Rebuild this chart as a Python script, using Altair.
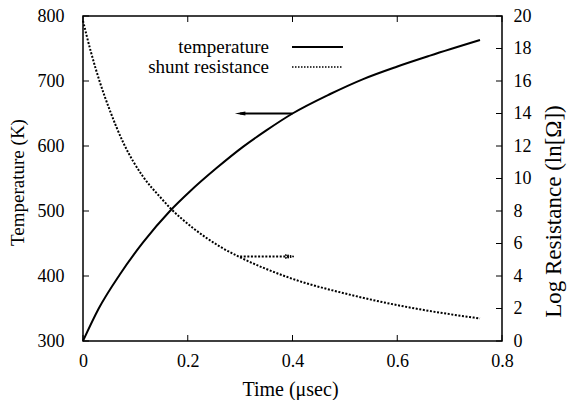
import altair as alt
import pandas as pd

# ---- data ----
temp_time = [0, 0.03, 0.07, 0.115, 0.166, 0.204, 0.255, 0.306, 0.35, 0.40, 0.472, 0.535, 0.599, 0.6625, 0.758]
temp_vals = [300, 350, 402, 452, 500, 530, 566, 599, 624, 650, 680, 703, 722, 739, 763]

res_time = [0, 0.015, 0.0325, 0.05, 0.077, 0.115, 0.147, 0.166, 0.211, 0.262, 0.30, 0.389, 0.516, 0.643, 0.758]
res_vals = [19.7, 17.8, 15.9, 14.3, 12.2, 10.1, 8.87, 8.2, 6.93, 5.8, 5.15, 3.95, 2.8, 1.95, 1.39]

x_ticks = [0, 0.2, 0.4, 0.6, 0.8]
temp_ticks = [300, 400, 500, 600, 700, 800]
res_ticks = [0, 2, 4, 6, 8, 10, 12, 14, 16, 18, 20]

temp_arrow_t = [0.40, 0.30]
temp_arrow_v = 650
res_arrow_t = [0.30, 0.395]
res_arrow_v = 5.2

legend_labels = ["temperature", "shunt resistance"]

W, H = 419, 325
FONT = "Liberation Serif"
FS = 18

temp_df = pd.DataFrame({"t": temp_time, "v": temp_vals})
res_df = pd.DataFrame({"t": res_time, "v": res_vals})

xscale = alt.Scale(domain=[0, 0.8], nice=False, zero=False)
tscale = alt.Scale(domain=[300, 800], nice=False, zero=False)
rscale = alt.Scale(domain=[0, 20], nice=False, zero=False)

common = dict(ticks=False, domain=False, grid=False, labelFlush=False, labelFont=FONT, labelFontSize=FS,
              labelColor="black", titleFont=FONT, titleFontWeight="normal", titleColor="black")

x_axis = alt.Axis(values=x_ticks, format=".1~f", title="Time (\u03bcsec)", labelPadding=11,
                  titleFontSize=20, titleX=207, titleY=48, titleBaseline="middle", titleAlign="center",
                  **common)
t_axis = alt.Axis(values=temp_ticks, orient="left", title="Temperature (K)", labelPadding=19,
                  titleFontSize=19, titleAngle=270, titleX=-66, titleY=166, titleAlign="center",
                  titleBaseline="middle", **common)
r_axis = alt.Axis(values=res_ticks, orient="right", title="Log Resistance (ln[\u03a9])", labelPadding=11,
                  titleFontSize=23, titleAngle=270, titleX=51, titleY=195, titleAlign="center",
                  titleBaseline="middle", **common)

X = alt.X("t:Q", scale=xscale, axis=x_axis)
YT = alt.Y("v:Q", scale=tscale, axis=t_axis)
YR = alt.Y("v:Q", scale=rscale, axis=r_axis)

# temperature group
temp_line = alt.Chart(temp_df).mark_line(color="black", strokeWidth=2, interpolate="monotone").encode(
    x=X, y=YT)
ta_df = pd.DataFrame({"t": [temp_arrow_t[0]], "t2": [temp_arrow_t[1]], "v": [temp_arrow_v]})
temp_arrow = alt.Chart(ta_df).mark_rule(color="black", strokeWidth=2).encode(x=X, x2="t2:Q", y=YT)
tah_df = pd.DataFrame({"t": [temp_arrow_t[1]], "v": [temp_arrow_v]})
temp_head = alt.Chart(tah_df).mark_point(
    shape="M -1 0 L 1 -0.4 L 1 0.4 Z", filled=True, color="black", opacity=1, size=110
).encode(x=X, y=YT)
tt_df = pd.DataFrame({"v": temp_ticks})
temp_tick_marks = alt.Chart(tt_df).mark_rule(color="black", strokeWidth=1).encode(
    x=alt.value(0), x2=alt.value(6), y=YT)

temp_group = alt.layer(temp_line, temp_arrow, temp_head, temp_tick_marks)

# resistance group
res_line = alt.Chart(res_df).mark_line(color="black", strokeWidth=2, strokeDash=[2, 1.6],
                                        interpolate="monotone").encode(x=X, y=YR)
ra_df = pd.DataFrame({"t": [res_arrow_t[0]], "t2": [res_arrow_t[1]], "v": [res_arrow_v]})
res_arrow = alt.Chart(ra_df).mark_rule(color="black", strokeWidth=2, strokeDash=[2, 1.6]).encode(
    x=X, x2="t2:Q", y=YR)
rah_df = pd.DataFrame({"t": [res_arrow_t[1]], "v": [res_arrow_v]})
res_head = alt.Chart(rah_df).mark_point(
    shape="M 1 0 L -1 -0.4 L -1 0.4 Z", filled=False, color="black", opacity=1, size=60,
    strokeWidth=1.5, strokeDash=[1.5, 1]
).encode(x=X, y=YR)
rt_df = pd.DataFrame({"v": res_ticks})
res_tick_marks = alt.Chart(rt_df).mark_rule(color="black", strokeWidth=1).encode(
    x=alt.value(W - 6), x2=alt.value(W), y=YR)

res_group = alt.layer(res_line, res_arrow, res_head, res_tick_marks)

# x ticks (bottom and mirrored top)
xt_df = pd.DataFrame({"t": x_ticks})
x_bottom = alt.Chart(xt_df).mark_rule(color="black", strokeWidth=1).encode(
    x=X, y=alt.value(H - 6), y2=alt.value(H))
x_top = alt.Chart(xt_df).mark_rule(color="black", strokeWidth=1).encode(
    x=X, y=alt.value(0), y2=alt.value(6))

# legend (key in the upper part of the frame)
def leg_label(i, ypix):
    return alt.Chart(pd.DataFrame({"label": [legend_labels[i]]})).mark_text(
        align="right", baseline="middle", font=FONT, fontSize=19, color="black"
    ).encode(text="label:N", x=alt.value(186), y=alt.value(ypix))

leg_solid = alt.Chart(pd.DataFrame({"label": [legend_labels[0]]})).mark_rule(
    color="black", strokeWidth=2).encode(x=alt.value(209), x2=alt.value(260), y=alt.value(31))
leg_dot = alt.Chart(pd.DataFrame({"label": [legend_labels[1]]})).mark_rule(
    color="black", strokeWidth=1.5, strokeDash=[1.5, 1.5]).encode(
    x=alt.value(209), x2=alt.value(260), y=alt.value(51))

other = alt.layer(x_bottom, x_top, leg_solid, leg_dot, leg_label(0, 31), leg_label(1, 51))

chart = alt.layer(temp_group, res_group, other).resolve_scale(y="independent").properties(
    width=W, height=H,
    padding={"left": 83, "top": 16, "right": 66, "bottom": 59},
    autosize="none",
    background="white",
).configure_view(stroke="black", strokeWidth=1.5).configure_axis(
    labelFont=FONT, titleFont=FONT
).configure_text(font=FONT)

chart.save("out.html", embed_options={"renderer": "svg", "actions": False})
